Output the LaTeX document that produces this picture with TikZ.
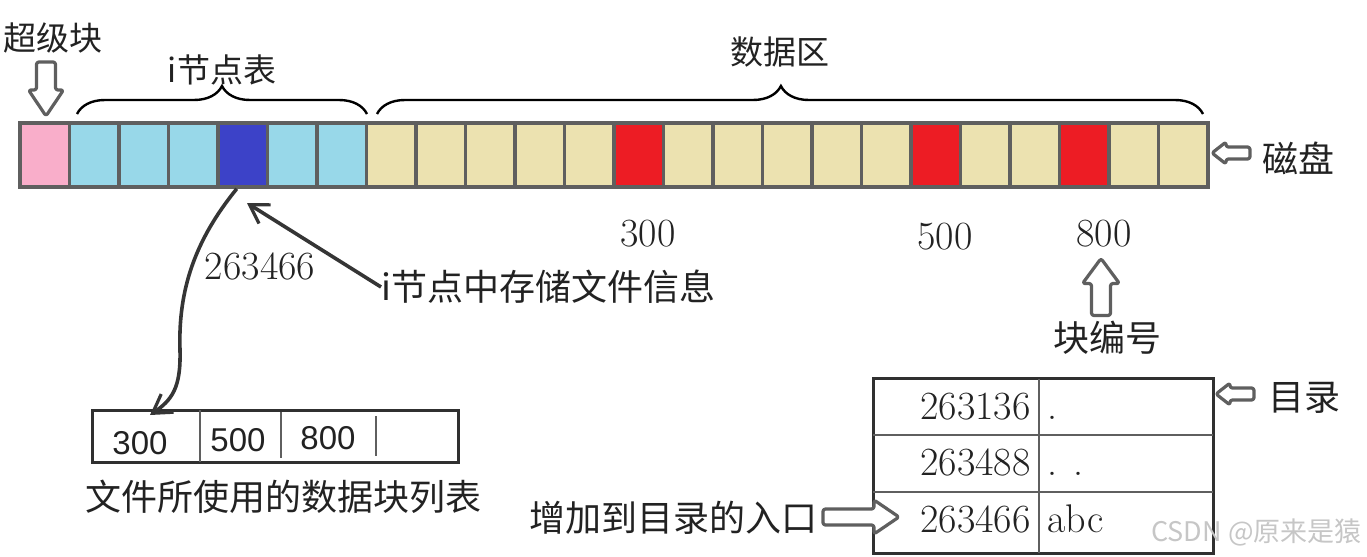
\documentclass[tikz,border=0pt]{standalone}
\usepackage{fontspec}
\newfontfamily\cjk{Noto Sans CJK SC}
\newfontfamily\arialf{Liberation Sans}
\usetikzlibrary{arrows.meta,decorations.pathreplacing}
\definecolor{pinkc}{RGB}{249,174,202}
\definecolor{bluec}{RGB}{152,216,233}
\definecolor{dbluec}{RGB}{60,66,200}
\definecolor{tanc}{RGB}{236,226,176}
\definecolor{redc}{RGB}{237,28,36}
\definecolor{inkc}{RGB}{34,34,34}
\definecolor{edgec}{RGB}{95,95,95}
% #1 rotation, #2 x, #3 y, #4 length, #5 shaft, #6 head width, #7 head length
\newcommand\hollowarr[7]{%
  \draw[harrowline, shift={(#2,#3)}, rotate=#1]
    ({-#4/2},{-#5/2}) -- ({#4/2-#7},{-#5/2}) -- ({#4/2-#7},{-#6/2}) -- ({#4/2},0)
    -- ({#4/2-#7},{#6/2}) -- ({#4/2-#7},{#5/2}) -- ({-#4/2},{#5/2}) -- cycle;}
\begin{document}
\begin{tikzpicture}[x=0.5pt,y=-0.5pt,
  cell/.style={draw=edgec, line width=1.8pt, minimum width=24.75pt, minimum height=32pt, inner sep=0pt},
  zh/.style={font=\cjk\fontsize{18}{20}\selectfont, text=inkc, inner sep=0pt},
  zhs/.style={font=\cjk\fontsize{16.5}{18}\selectfont, text=inkc, inner sep=0pt},
  num/.style={font=\fontsize{20}{22}\selectfont, text=inkc, inner sep=0pt, text height=13.6pt, text depth=0pt},
  snum/.style={font=\arialf\fontsize{16.5}{18}\selectfont, text=inkc, inner sep=0pt},
  harrowline/.style={draw=edgec, fill=white, line width=1.6pt, rounded corners=1.2pt, line join=round},
  bracec/.style={decorate, line width=1.2pt, draw=black},
  barb/.style={-{Straight Barb[length=9pt,width=11pt,line width=1.6pt]}, line width=1.8pt, draw=inkc!80!gray},
  tline/.style={draw=edgec, line width=1.4pt}
]
\useasboundingbox (0,0) rectangle (1367,557);

% disk cells
\foreach \col [count=\n from 0] in {pinkc,bluec,bluec,bluec,dbluec,bluec,bluec,
  tanc,tanc,tanc,tanc,tanc,redc,tanc,tanc,tanc,tanc,tanc,redc,tanc,tanc,redc,tanc,tanc}
  \node[cell, fill=\col] (c\n) at ({20+49.5*(\n+0.5)},155) {};

% braces and labels
\draw[bracec, decoration={brace, amplitude=14pt, aspect=0.5}] (77,114) -- (367,114);
\draw[bracec, decoration={brace, amplitude=14pt, aspect=0.489}] (377,114) -- (1203,114);
\node[zhs] (super) at (53,38) {超级块};
\node[zhs] (inodes) at (222,70) {i节点表};
\node[zhs] (data) at (780,52) {数据区};

% hollow arrows
\hollowarr{270}{46}{89}{54}{19}{35}{26}
\hollowarr{180}{1231}{153}{38}{12}{22}{14}
\node[zh, anchor=west] (disk) at (1262,158) {磁盘};

% block numbers
\node[num] (n300) at (648,233) {300};
\node[num] (n500) at (945,236) {500};
\node[num] (n800) at (1104,233) {800};
\hollowarr{90}{1101}{287}{57}{19}{37}{25}
\node[zh] (blkno) at (1107,338) {块编号};

% inode info
\node[num] (ino) at (260,266) {263466};
\node[zh, anchor=west] (info) at (381,287) {i节点中存储文件信息};
\coordinate (ihead) at (247,203);
\draw[barb] (info.west) -- (ihead);

% block list
\node[draw=inkc!85!gray, line width=1.5pt, minimum width=183pt, minimum height=26pt, inner sep=0pt] (list) at (275,436) {};
\draw[tline] (200,410) -- (200,462);
\draw[tline] (281,412) -- (281,458);
\draw[tline] (376,416) -- (376,456);
\node[snum] (l300) at (140,443) {300};
\node[snum] (l500) at (238,440) {500};
\node[snum] (l800) at (328,438) {800};
\node[zh] (listlbl) at (283,497) {文件所使用的数据块列表};
\coordinate (lhead) at (150,415);
\draw[barb] ([xshift=-3pt]c4.south) .. controls (195,240) and (178,290) .. (180,350)
  .. controls (181,388) and (172,400) .. (lhead);

% directory table
\node[draw=inkc!85!gray, line width=1.5pt, minimum width=170pt, minimum height=87.5pt, inner sep=0pt] (dir) at (1043,466) {};
\draw[tline] (873,435) -- (1213,435);
\draw[tline] (873,492) -- (1213,492);
\draw[tline] (1039,379) -- (1039,553);
\node[num, anchor=east] (d1) at (1031,406) {263136};
\node[num, anchor=east] (d2) at (1031,462) {263488};
\node[num, anchor=east] (d3) at (1031,519) {263466};
\node[num, anchor=west] (e1) at (1047,406) {.};
\node[num, anchor=west] (e2) at (1047,462) {. .};
\node[num, anchor=west] (e3) at (1047,519) {abc};
\hollowarr{180}{1235}{394}{38}{12}{22}{14}
\node[zh, anchor=west] (dirlbl) at (1268,398) {目录};

% entry
\node[zh, anchor=east] (entry) at (818,518) {增加到目录的入口};
\hollowarr{0}{861}{517}{76}{16}{34}{25}

% watermark
\node[font=\cjk\fontsize{13.5}{15}\selectfont, text=gray!45, anchor=east, inner sep=0pt] (wm) at (1362,532) {CSDN @原来是猿};
\end{tikzpicture}
\end{document}
